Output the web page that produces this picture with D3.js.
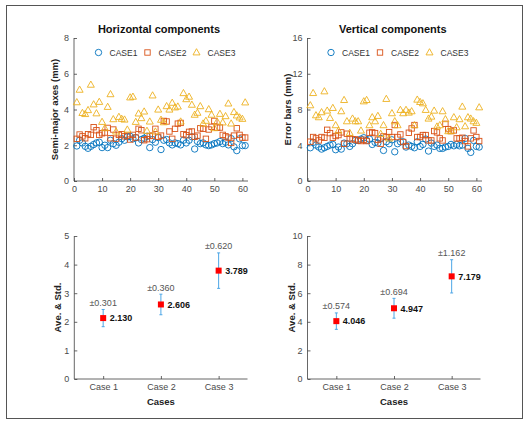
<!DOCTYPE html>
<html><head><meta charset="utf-8">
<script src="https://cdnjs.cloudflare.com/ajax/libs/d3/7.8.5/d3.min.js"></script>
<style>body{margin:0;background:#fff} text{font-family:"Liberation Sans",Arial,sans-serif}</style>
</head><body><svg id="c" width="529" height="423"></svg>
<script>
// ---------- DATA ----------
const seriesNames = ["CASE1","CASE2","CASE3"];
const hCase1 = [1.96,2.28,2.13,1.94,1.83,1.94,2.04,2.13,2.17,1.87,2.00,1.87,2.28,2.09,2.00,2.17,2.37,2.28,2.47,2.50,2.36,2.43,2.13,2.32,2.39,2.50,1.87,2.32,2.17,2.43,1.76,2.28,2.32,2.13,2.02,2.13,2.09,2.02,2.28,2.13,2.28,2.47,1.79,2.21,2.09,2.13,2.02,1.98,2.02,2.09,2.13,2.21,2.09,2.17,2.02,2.37,1.91,1.70,2.36,1.98,1.98];
const hCase2 = [2.36,2.60,2.50,2.39,2.62,2.58,3.01,2.84,2.58,2.67,2.71,2.97,2.39,2.88,2.37,2.58,2.62,2.50,2.54,2.32,2.58,2.43,2.92,2.84,2.28,2.34,2.52,2.54,2.92,2.47,2.54,3.36,3.33,2.77,2.36,2.92,3.21,3.25,2.62,2.56,2.75,2.77,2.47,2.54,2.95,2.92,2.36,2.88,3.03,3.36,2.99,2.99,2.58,2.50,2.43,2.13,2.54,2.95,2.58,2.43,2.43];
const hCase3 = [4.40,5.10,3.80,3.74,3.96,5.38,4.28,3.78,4.42,3.30,2.95,4.14,4.85,3.45,2.76,3.58,3.47,3.43,2.87,4.67,4.71,3.30,3.77,3.51,3.88,2.80,3.32,4.78,2.76,3.99,3.42,3.28,4.18,3.99,4.37,4.11,4.16,3.32,4.91,4.57,4.71,4.26,3.70,3.81,4.18,3.21,3.36,4.01,3.70,2.95,3.32,3.75,3.27,3.62,4.33,3.21,3.85,3.66,3.55,3.47,4.39];
const vCase1 = [3.72,4.32,4.02,3.80,3.57,3.72,3.87,4.02,4.09,3.50,3.80,3.57,4.24,4.17,3.87,4.17,4.54,4.54,4.69,4.84,4.54,4.69,4.09,4.32,4.24,4.76,3.42,4.39,4.17,4.61,3.27,4.17,4.39,4.39,3.80,4.02,3.87,3.72,4.39,3.87,4.09,4.69,3.35,4.24,3.87,4.02,3.65,3.65,3.80,3.87,4.09,3.94,4.09,3.94,4.02,4.76,3.65,3.20,4.54,3.87,3.80];
const vCase2 = [4.40,4.92,4.77,4.54,4.92,4.84,5.73,5.36,4.84,5.03,5.14,5.44,4.17,5.29,4.77,4.66,4.66,4.54,4.47,4.62,4.47,5.40,5.44,5.36,4.62,4.17,4.99,4.92,5.47,4.92,6.26,4.92,5.21,4.36,3.91,5.40,5.88,6.26,4.92,4.92,5.14,5.14,4.54,4.54,5.59,5.44,4.77,4.54,6.40,5.81,5.59,5.66,4.77,4.77,4.84,4.47,3.87,4.77,5.66,4.92,4.47];
const vCase3 = [8.46,9.83,7.34,7.12,7.68,10.02,7.86,7.04,8.16,6.23,5.63,7.79,9.05,6.67,5.37,6.97,6.67,6.67,5.63,8.90,9.05,6.23,7.12,6.67,7.27,5.26,6.23,9.17,4.74,7.57,6.67,6.23,7.94,7.57,7.94,7.64,7.79,6.23,9.09,8.83,8.68,7.94,6.97,7.19,7.86,6.08,6.23,7.79,6.90,5.56,5.56,7.12,6.00,6.90,8.31,6.11,7.12,6.97,6.67,6.49,8.23];

const caseLabels = ["Case 1","Case 2","Case 3"];
const hMean = [2.130, 2.606, 3.789];
const hStd  = [0.301, 0.360, 0.620];
const vMean = [4.046, 4.947, 7.179];
const vStd  = [0.574, 0.694, 1.162];

const hTicksY = [0,2,4,6,8];
const vTicksY = [0,4,8,12,16];
const xTicks = [0,10,20,30,40,50,60];
const bhTicksY = [0,1,2,3,4,5];
const bvTicksY = [0,2,4,6,8,10];

// ---------- STYLE ----------
const colors = ["#0072BD","#D95319","#EDB120"];
const axisColor = "#404040";
const tickText = "#4a4a4a";
const svg = d3.select("#c");

svg.append("rect").attr("x",6.5).attr("y",5.5).attr("width",516).attr("height",413)
  .attr("fill","none").attr("stroke","#555").attr("stroke-width",1);

function styleAxis(a) {
  a.select(".domain").attr("stroke",axisColor).attr("stroke-width",0.8);
  a.selectAll(".tick line").attr("stroke",axisColor).attr("stroke-width",0.8);
  a.selectAll(".tick text").attr("fill",tickText).style("font-size","9px").style("font-family","Liberation Sans, Arial, sans-serif");
}

function drawAxes(g, x, y, xt, yt) {
  const [x0,x1] = x.range(), [y0,y1] = y.range();
  const ax = g.append("g").attr("transform",`translate(0,${y0})`)
    .call(d3.axisBottom(x).tickValues(xt).tickSize(-3).tickPadding(5).tickFormat(d3.format("d")));
  const ay = g.append("g").attr("transform",`translate(${x0},0)`)
    .call(d3.axisLeft(y).tickValues(yt).tickSize(-3).tickPadding(5).tickFormat(d3.format("d")));
  styleAxis(ax); styleAxis(ay);
  ax.select(".domain").attr("d",`M${x0},0H${x1}`);
  ay.select(".domain").attr("d",`M0,${y0}V${y1}`);
}

function marker(g, type, cx, cy, color) {
  if (type===0) g.append("circle").attr("cx",cx).attr("cy",cy).attr("r",3.2)
      .attr("fill","none").attr("stroke",color).attr("stroke-width",0.9);
  else if (type===1) g.append("rect").attr("x",cx-2.7).attr("y",cy-2.7).attr("width",5.4).attr("height",5.4)
      .attr("fill","none").attr("stroke",color).attr("stroke-width",0.9);
  else g.append("path").attr("d",`M${cx},${cy-3.8}L${cx+3.5},${cy+2.4}L${cx-3.5},${cy+2.4}Z`)
      .attr("fill","none").attr("stroke",color).attr("stroke-width",0.9);
}

function scatterPanel(opt) {
  const g = svg.append("g");
  const x = d3.scaleLinear().domain([0,62]).range(opt.xr);
  const y = d3.scaleLinear().domain([0,opt.ymax]).range([181,38]);
  drawAxes(g, x, y, xTicks, opt.yt);
  opt.data.forEach((arr,si)=>{
    arr.forEach((v,i)=> marker(g, si, x(i+1), y(v), colors[si]));
  });
  opt.legX.forEach((lx,si)=>{
    marker(g, si, lx, 52.5, colors[si]);
    g.append("text").attr("x",lx+11).attr("y",55.5).attr("fill","#333")
      .style("font-size","8.5px").text(seriesNames[si]);
  });
  g.append("text").attr("x",(opt.xr[0]+opt.xr[1])/2 - 2).attr("y",32.5).attr("text-anchor","middle")
    .attr("fill","#111").style("font-size","11px").style("font-weight","bold").text(opt.title);
  g.append("text").attr("transform",`translate(${opt.ylx},${109.5}) rotate(-90)`)
    .attr("text-anchor","middle").attr("fill","#222").style("font-size","9.5px").style("font-weight","bold").text(opt.ylabel);
}

scatterPanel({xr:[74,248], ymax:8, yt:hTicksY, data:[hCase1,hCase2,hCase3],
  legX:[98.5,147.5,196.5], title:"Horizontal components", ylabel:"Semi-major axes (mm)", ylx:58});
scatterPanel({xr:[307.5,482], ymax:16, yt:vTicksY, data:[vCase1,vCase2,vCase3],
  legX:[331,380,429.5], title:"Vertical components", ylabel:"Error bars (mm)", ylx:291});

function errPanel(opt) {
  const g = svg.append("g");
  const [x0,x1] = opt.xr;
  const step = (x1-x0)/3;
  const x = d3.scalePoint().domain(caseLabels).range([x0+step/2, x1-step/2]);
  const y = d3.scaleLinear().domain([0,opt.ymax]).range([379,236]);
  const ax = g.append("g").attr("transform","translate(0,379)")
    .call(d3.axisBottom(x).tickSize(-3).tickPadding(5));
  const ay = g.append("g").attr("transform",`translate(${x0},0)`)
    .call(d3.axisLeft(y).tickValues(opt.yt).tickSize(-3).tickPadding(5).tickFormat(d3.format("d")));
  styleAxis(ax); styleAxis(ay);
  ax.select(".domain").attr("d",`M${x0},0H${x1}`);
  ay.select(".domain").attr("d","M0,379V236");
  caseLabels.forEach((c,i)=>{
    const cx = x(c), m = opt.mean[i], s = opt.std[i];
    const eb = "#4DA6E6";
    g.append("line").attr("x1",cx).attr("x2",cx).attr("y1",y(m-s)).attr("y2",y(m+s)).attr("stroke",eb).attr("stroke-width",1);
    [m-s,m+s].forEach(v=> g.append("line").attr("x1",cx-1.5).attr("x2",cx+1.5).attr("y1",y(v)).attr("y2",y(v)).attr("stroke",eb).attr("stroke-width",1));
    g.append("rect").attr("x",cx-3).attr("y",y(m)-3).attr("width",6).attr("height",6).attr("fill","#FF0000");
    g.append("text").attr("x",cx+6.5).attr("y",y(m)+3.3).attr("fill","#111").style("font-size","9px").style("font-weight","bold").text(m.toFixed(3));
    g.append("text").attr("x",cx).attr("y",y(m+s)-3.5).attr("text-anchor","middle").attr("fill","#555").style("font-size","9px").text("\u00B1"+s.toFixed(3));
  });
  g.append("text").attr("x",(x0+x1)/2).attr("y",405).attr("text-anchor","middle").attr("fill","#222")
    .style("font-size","9.5px").style("font-weight","bold").text("Cases");
  g.append("text").attr("transform",`translate(${opt.ylx},307.5) rotate(-90)`).attr("text-anchor","middle")
    .attr("fill","#222").style("font-size","9.5px").style("font-weight","bold").text("Ave. & Std.");
}

errPanel({xr:[74.3,247.5], ymax:5, yt:bhTicksY, mean:hMean, std:hStd, ylx:61});
errPanel({xr:[307.5,480.5], ymax:10, yt:bvTicksY, mean:vMean, std:vStd, ylx:295});
</script></body></html>
